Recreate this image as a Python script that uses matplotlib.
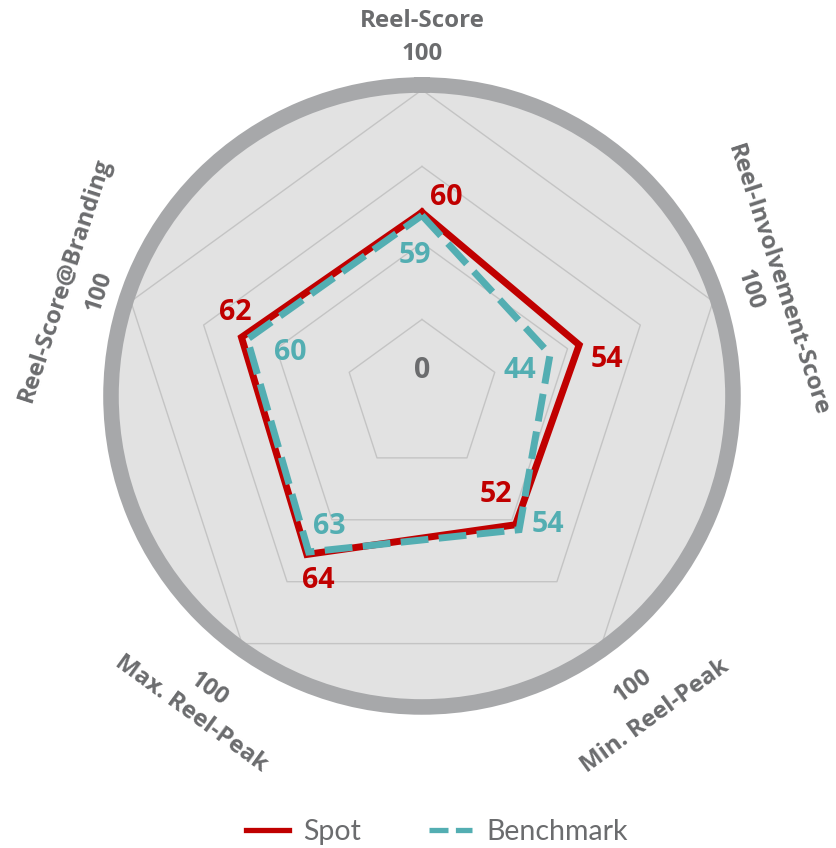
import numpy as np
import matplotlib
matplotlib.use("Agg")
import matplotlib.pyplot as plt
from matplotlib.lines import Line2D

categories = ["Reel-Score", "Reel-Involvement-Score", "Min. Reel-Peak",
              "Max. Reel-Peak", "Reel-Score@Branding"]
spot = [60, 54, 52, 64, 62]
benchmark = [59, 44, 54, 63, 60]
grid_levels = [25, 50, 75, 100]
axis_max_label = "100"

RED = "#c00000"
TEAL = "#53aeb2"
GRAY_TXT = "#6b6c6e"
RING = "#a7a8aa"
BG = "#e2e2e2"
GRID = "#c4c4c4"

plt.rcParams["font.family"] = ["Lato", "DejaVu Sans"]
BOLD_FONT = ["Open Sans", "DejaVu Sans"]

n = len(categories)
theta = np.arange(n) * 2 * np.pi / n
theta_closed = np.append(theta, theta[0])

fig = plt.figure(figsize=(8.37, 8.48), dpi=100)
ax = fig.add_axes([0.1326, 0.1663, 0.7431, 0.7335], projection="polar")
ax.set_theta_offset(np.pi / 2)
ax.set_theta_direction(-1)
ax.set_ylim(0, 101.6)
ax.set_facecolor(BG)
ax.grid(False)
ax.set_xticks([])
ax.set_yticks([])
ax.spines["polar"].set_color(RING)
ax.spines["polar"].set_linewidth(11.2)

# pentagon gridlines
for lvl in grid_levels:
    ax.plot(theta_closed, [lvl] * (n + 1), color=GRID, lw=1.0, zorder=1)

# series
ax.plot(theta_closed, spot + spot[:1], color=RED, lw=5, zorder=3,
        solid_joinstyle="miter")
ax.plot(theta_closed, benchmark + benchmark[:1], color=TEAL, lw=5, zorder=4,
        dashes=(4, 1.5), dash_joinstyle="miter")

# value labels (offsets in pixels)
spot_off = [(24, 15), (28, -15), (-20, 30), (11, -26), (-6, 25)]
bench_off = [(-7, -40), (-30, -16), (29, 5), (21, 25), (43, -13)]
for i in range(n):
    ax.annotate(str(spot[i]), (theta[i], spot[i]), xytext=spot_off[i],
                textcoords="offset pixels", ha="center", va="center",
                color=RED, fontsize=20.5, fontweight="bold", family=BOLD_FONT,
                zorder=5)
    ax.annotate(str(benchmark[i]), (theta[i], benchmark[i]), xytext=bench_off[i],
                textcoords="offset pixels", ha="center", va="center",
                color=TEAL, fontsize=20.5, fontweight="bold", family=BOLD_FONT,
                zorder=5)

ax.text(0, 8.3, "0", ha="center", va="center", color=GRAY_TXT,
        fontsize=20.5, fontweight="bold", family=BOLD_FONT)

# category labels and axis max labels
label_r = [122.6, 122.2, 129.4, 128.4, 122.5]
max_r = [111.8, 112.4, 117.3, 118.3, 110.8]
for i in range(n):
    deg = np.degrees(theta[i])
    rot = -deg if (deg <= 90 or deg >= 270) else 180 - deg
    ax.text(theta[i], label_r[i], categories[i], rotation=rot,
            rotation_mode="anchor", ha="center", va="center",
            color=GRAY_TXT, fontsize=17.3, fontweight="bold", family=BOLD_FONT)
    ax.text(theta[i], max_r[i], axis_max_label, rotation=rot,
            rotation_mode="anchor", ha="center", va="center",
            color=GRAY_TXT, fontsize=17.3, fontweight="bold", family=BOLD_FONT)

handles = [Line2D([], [], color=RED, lw=3.8),
           Line2D([], [], color=TEAL, lw=3.8, dashes=(3.6, 1.4))]
fig.legend(handles, ["Spot", "Benchmark"], loc="center",
           bbox_to_anchor=(437 / 837, 1 - 832 / 848), ncol=2, frameon=False,
           fontsize=20.5, labelcolor=GRAY_TXT, handlelength=1.5,
           handletextpad=0.5, columnspacing=2.4)

fig.savefig("out.png", dpi=100)
